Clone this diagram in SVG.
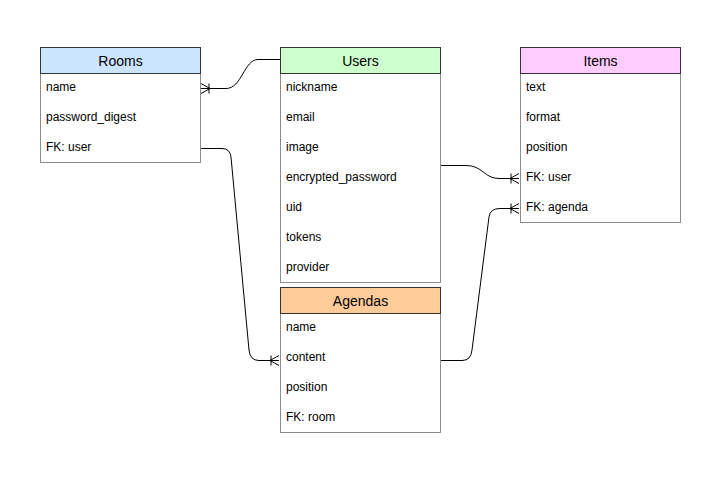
<svg xmlns="http://www.w3.org/2000/svg" width="721" height="481" viewBox="0 0 721 481">
<style>
.body{fill:#ffffff;stroke:#8c8c8c;stroke-width:1}
.hdr{stroke:#333333;stroke-width:1}
.title{font-family:"Liberation Sans",Arial,sans-serif;font-size:14px;fill:#000;text-anchor:middle}
.row{font-family:"Liberation Sans",Arial,sans-serif;font-size:12px;fill:#000}
.edge{fill:none;stroke:#000;stroke-width:1}
</style>
<defs>
<marker id="crow" markerUnits="userSpaceOnUse" markerWidth="14" markerHeight="14" refX="10" refY="6" orient="auto" viewBox="0 0 14 14">
<path d="M0,6 L10,6 M10,1 L1,6 L10,11 M2,1 L2,11" fill="none" stroke="#000" stroke-width="1"/>
</marker>
</defs>
<rect width="721" height="481" fill="#ffffff"/>
<g id="rooms">
<rect class="body" x="40.5" y="73.5" width="160" height="89"/>
<rect class="hdr" x="40.5" y="47.5" width="160" height="26" fill="#cce5ff"/>
<text class="title" x="120.5" y="66">Rooms</text>
<text class="row" x="46" y="91">name</text>
<text class="row" x="46" y="121">password_digest</text>
<text class="row" x="46" y="151">FK: user</text>
</g>
<g id="users">
<rect class="body" x="280.5" y="73.5" width="160" height="209"/>
<rect class="hdr" x="280.5" y="47.5" width="160" height="26" fill="#ccffcc"/>
<text class="title" x="360.5" y="66">Users</text>
<text class="row" x="286" y="91">nickname</text>
<text class="row" x="286" y="121">email</text>
<text class="row" x="286" y="151">image</text>
<text class="row" x="286" y="181">encrypted_password</text>
<text class="row" x="286" y="211">uid</text>
<text class="row" x="286" y="241">tokens</text>
<text class="row" x="286" y="271">provider</text>
</g>
<g id="items">
<rect class="body" x="520.5" y="73.5" width="160" height="149"/>
<rect class="hdr" x="520.5" y="47.5" width="160" height="26" fill="#ffccff"/>
<text class="title" x="600.5" y="66">Items</text>
<text class="row" x="526" y="91">text</text>
<text class="row" x="526" y="121">format</text>
<text class="row" x="526" y="151">position</text>
<text class="row" x="526" y="181">FK: user</text>
<text class="row" x="526" y="211">FK: agenda</text>
</g>
<g id="agendas">
<rect class="body" x="280.5" y="313.5" width="160" height="119"/>
<rect class="hdr" x="280.5" y="287.5" width="160" height="26" fill="#ffcc99"/>
<text class="title" x="360.5" y="306">Agendas</text>
<text class="row" x="286" y="331">name</text>
<text class="row" x="286" y="361">content</text>
<text class="row" x="286" y="391">position</text>
<text class="row" x="286" y="421">FK: room</text>
</g>
<g id="connectors">
<path class="edge" d="M280,59.5 L258,59.5 C244,59.5 242,88.5 226,88.5 L201,88.5" marker-end="url(#crow)"/>
<path class="edge" d="M201,148.5 L222,148.5 Q230,148.5 231,157 L249,350 Q250,360.5 259,360.5 L279,360.5" marker-end="url(#crow)"/>
<path class="edge" d="M441,165.5 L466,165.5 C483,165.5 484,178.5 499,178.5 L519,178.5" marker-end="url(#crow)"/>
<path class="edge" d="M441,360.5 L462,360.5 Q471,360.5 472,350 L489,217 Q490,208.5 500,208.5 L519,208.5" marker-end="url(#crow)"/>
</g>
</svg>
